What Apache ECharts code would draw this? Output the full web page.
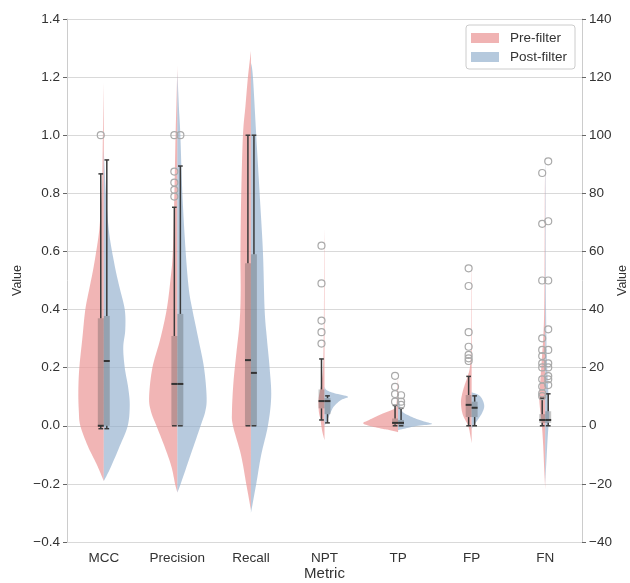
<!DOCTYPE html>
<html>
<head>
<meta charset="utf-8">
<script src="https://cdn.jsdelivr.net/npm/echarts@6/dist/echarts.min.js"></script>
<style>
html,body{margin:0;padding:0;background:#fff;}
#chart{width:630px;height:583px;}
</style>
</head>
<body>
<div id="chart"></div>
<script>
// ---------------- data ----------------
const categories = ['MCC', 'Precision', 'Recall', 'NPT', 'TP', 'FP', 'FN'];
const rateCats = [0, 1, 2];     // plotted on left axis (0..1 scores)
const countCats = [3, 4, 5, 6]; // plotted on right axis (counts)
const leftAxis = { min: -0.4, max: 1.4, interval: 0.2 };
const rightAxis = { min: -40, max: 140, interval: 20 };

// violin outlines: [value, density]  (density in units of 1/73.7 category band)
const preMCC = [[-0.19,0],[-0.13,7.5],[-0.07,16],[0,23.5],[0.05,25],[0.12,25.5],[0.2,24.5],[0.3,21.5],[0.4,18.5],[0.48,14],[0.55,10],[0.66,5],[0.75,3],[0.85,1.6],[1.0,0.9],[1.18,0]];
const postMCC = [[-0.19,0],[-0.15,6],[-0.07,16],[0,24],[0.07,26],[0.13,24.5],[0.2,21],[0.27,19.5],[0.33,21.5],[0.4,21],[0.48,15.5],[0.55,11],[0.66,5.5],[0.78,2.5],[0.85,1.3],[0.95,0]];
const prePrecision = [[-0.23,0],[-0.2,2.3],[-0.14,6],[-0.07,13],[0,21],[0.05,26.5],[0.1,28.3],[0.2,25],[0.3,17],[0.4,10.7],[0.5,7],[0.6,4.5],[0.8,3],[1.0,1.8],[1.1,1],[1.24,0]];
const postPrecision = [[-0.23,0],[-0.2,3.3],[-0.1,13.3],[0,23.3],[0.05,28],[0.1,29.3],[0.2,26.7],[0.3,21],[0.4,15],[0.47,11.5],[0.6,8.3],[0.8,5],[1.0,3],[1.1,1.5],[1.22,0]];
const preRecall = [[-0.29,0],[-0.2,4.7],[-0.1,10],[0,18],[0.05,19],[0.15,17.5],[0.25,14.6],[0.35,11.5],[0.45,10.3],[0.6,10.5],[0.8,9.7],[1.0,8],[1.1,5.5],[1.2,3],[1.29,0]];
const postRecall = [[-0.3,0],[-0.2,5.3],[-0.1,10.3],[0,17],[0.1,20.3],[0.2,18.7],[0.3,16],[0.4,13.7],[0.6,12],[0.8,8.7],[1.0,5.3],[1.2,2],[1.25,0]];
const preNPT = [[-5,0],[-1.5,2.5],[2,4],[5,5.7],[9,6],[12,4.5],[15,3],[20,1.5],[30,0.8],[45,0.5],[60,0.3],[68,0]];
const postNPT = [[0,0],[1,1.7],[3.7,5],[6.6,9.3],[8.9,16.7],[10,23.5],[11.2,10],[12.3,2],[13.5,0]];
const preTP = [[-2.2,0],[-1.5,8],[-1,16],[0,29],[0.9,35],[2,29],[4,17],[6,3],[8,1.5],[12,0.8],[17,0]];
const postTP = [[-1.5,0],[-1,6],[0,20],[0.6,34],[1.5,26],[3,14],[5,4],[8,1.5],[10,0]];
const preFP = [[-6,0],[-3,1.5],[0,3.5],[4,9],[8,10.7],[11,9.5],[14,7],[17,4],[20,1.8],[25,0.8],[35,0.5],[50,0.3],[56,0]];
const postFP = [[-1,0],[0.3,2.6],[2,6],[4.3,10.3],[6.6,12.6],[8.9,11],[10.6,7],[11.5,0]];
const preFN = [[-22,0],[-15,1],[-7,2],[0,3.3],[5,5],[10,6],[15,5],[20,4],[25,3],[30,2],[40,1],[60,0.6],[80,0.4],[90,0]];
const postFN = [[-20,0],[-12,1.2],[-5,2.3],[0,3.3],[4,4],[10,3.3],[20,2],[30,1.2],[50,0.6],[80,0.4],[95,0]];

// box stats per category: [lowWhisker, q1, median, q3, highWhisker]
const preBox = [
  [-0.01, 0, 0, 0.37, 0.867],
  [0, 0, 0.144, 0.309, 0.752],
  [0, 0, 0.226, 0.559, 1.0],
  [2, 6, 8.5, 12.5, 23],
  [0, 0.5, 1, 2.5, 7],
  [0, 3, 7.2, 10.6, 17],
  [0, 1, 2, 4, 9.5]
];
const postBox = [
  [-0.01, 0, 0.223, 0.378, 0.915],
  [0, 0, 0.144, 0.385, 0.894],
  [0, 0, 0.182, 0.59, 1.0],
  [1, 4, 8.5, 9.5, 10.3],
  [0, 0.3, 1, 2, 6],
  [0, 3, 6.2, 8.3, 10.3],
  [0, 1, 2, 5, 11]
];

// outliers: [categoryIndex, value]
const preOutliers = [
  [0,1.0],
  [1,0.789],[1,0.812],[1,0.837],[1,0.875],[1,1.0],
  [3,28.3],[3,32.2],[3,36.2],[3,49],[3,62],
  [4,8.3],[4,10.9],[4,13.4],[4,17.2],
  [5,22.3],[5,23.2],[5,24.4],[5,27.2],[5,32.2],[5,48.1],[5,54.2],
  [6,10.2],[6,11.2],[6,13.5],[6,16],[6,20.1],[6,21.5],[6,24],[6,26.1],[6,30.1],[6,50],[6,69.5],[6,87]
];
const postOutliers = [
  [1,1.0],
  [4,7.2],[4,8.3],[4,10.5],
  [6,14],[6,16],[6,17.1],[6,20.1],[6,21.5],[6,26.1],[6,33.2],[6,50],[6,70.4],[6,91]
];

const preViolins = [preMCC, prePrecision, preRecall, preNPT, preTP, preFP, preFN];
const postViolins = [postMCC, postPrecision, postRecall, postNPT, postTP, postFP, postFN];

// ---------------- styling ----------------
const PRE_COLOR = 'rgba(235,153,153,0.72)';
const POST_COLOR = 'rgba(155,181,209,0.72)';
const PRE_SOLID = '#f0b3b3';
const POST_SOLID = '#b5c9dd';
const DENSITY_UNIT = 73.7;
const BOX_FRAC = 0.081, WHISK_FRAC = 0.041, CAP_FRAC = 0.032;
const TEXT = '#333';
const FONT = 'Liberation Sans, Arial, sans-serif';

function catmull(pts, steps) {
  const out = [];
  const n = pts.length;
  for (let i = 0; i < n - 1; i++) {
    const p0 = pts[Math.max(i - 1, 0)], p1 = pts[i], p2 = pts[i + 1], p3 = pts[Math.min(i + 2, n - 1)];
    for (let s = 0; s < steps; s++) {
      const t = s / steps, t2 = t * t, t3 = t2 * t;
      const f = (a, b, c, d) => 0.5 * ((2 * b) + (-a + c) * t + (2 * a - 5 * b + 4 * c - d) * t2 + (-a + 3 * b - 3 * c + d) * t3);
      out.push([f(p0[0], p1[0], p2[0], p3[0]), f(p0[1], p1[1], p2[1], p3[1])]);
    }
  }
  out.push(pts[n - 1]);
  return out;
}

function violinSeries(name, side, axisIdx, cats, color) {
  const src = side < 0 ? preViolins : postViolins;
  return {
    type: 'custom', name: name, yAxisIndex: axisIdx, z: 2,
    itemStyle: { color: color },
    encode: { x: 0, y: 1 },
    data: cats.map(c => [c, 0]),
    renderItem: function (params, api) {
      const ci = api.value(0);
      const bw = api.size([1, 0])[0];
      const cx = api.coord([ci, 0])[0];
      const raw = src[ci].map(([v, d]) => [cx + side * d * bw / DENSITY_UNIT, api.coord([ci, v])[1]]);
      let pts = catmull(raw, 8).map(p => [side < 0 ? Math.min(p[0], cx) : Math.max(p[0], cx), p[1]]);
      return { type: 'polygon', shape: { points: pts }, style: { fill: color } };
    }
  };
}

function boxSeries(name, side, axisIdx, cats) {
  const src = side < 0 ? preBox : postBox;
  return {
    type: 'custom', name: name, yAxisIndex: axisIdx, z: 3,
    encode: { x: 0, y: 1 },
    data: cats.map(c => [c, 0]),
    renderItem: function (params, api) {
      const ci = api.value(0);
      const [lo, q1, med, q3, hi] = src[ci];
      const bw = api.size([1, 0])[0];
      const cx = api.coord([ci, 0])[0];
      const y = v => api.coord([ci, v])[1];
      const bx0 = side < 0 ? cx - BOX_FRAC * bw : cx;
      const bx1 = side < 0 ? cx : cx + BOX_FRAC * bw;
      const wx = cx + side * WHISK_FRAC * bw;
      const cap = CAP_FRAC * bw;
      const ls = { stroke: '#3a3a3a', lineWidth: 1.5 };
      const ch = [];
      ch.push({ type: 'rect', shape: { x: bx0, y: y(q3), width: bx1 - bx0, height: y(q1) - y(q3) }, style: { fill: 'rgba(70,70,70,0.3)' } });
      ch.push({ type: 'line', shape: { x1: wx, y1: y(q3), x2: wx, y2: y(hi) }, style: ls });
      ch.push({ type: 'line', shape: { x1: wx - cap, y1: y(hi), x2: wx + cap, y2: y(hi) }, style: ls });
      if (lo < q1) ch.push({ type: 'line', shape: { x1: wx, y1: y(q1), x2: wx, y2: y(lo) }, style: ls });
      ch.push({ type: 'line', shape: { x1: wx - cap, y1: y(lo), x2: wx + cap, y2: y(lo) }, style: ls });
      ch.push({ type: 'line', shape: { x1: bx0, y1: y(med), x2: bx1, y2: y(med) }, style: { stroke: '#333', lineWidth: 2 } });
      return { type: 'group', children: ch };
    }
  };
}

function outlierSeries(name, side, axisIdx, cats) {
  const src = (side < 0 ? preOutliers : postOutliers).filter(o => cats.indexOf(o[0]) >= 0);
  return {
    type: 'custom', name: name, yAxisIndex: axisIdx, z: 4,
    encode: { x: 0, y: 1 },
    data: src,
    renderItem: function (params, api) {
      const ci = api.value(0);
      const bw = api.size([1, 0])[0];
      const p = api.coord([ci, api.value(1)]);
      return { type: 'circle', shape: { cx: p[0] + side * WHISK_FRAC * bw, cy: p[1], r: 3.5 }, style: { fill: 'none', stroke: '#aaaaaa', lineWidth: 1.2 } };
    }
  };
}

const minus = s => String(s).replace('-', '\u2212');

const option = {
  animation: false,
  backgroundColor: '#fff',
  textStyle: { fontFamily: FONT },
  grid: { left: 67, right: 48, top: 19, bottom: 41, containLabel: false, outerBoundsMode: 'none' },
  legend: {
    orient: 'vertical', left: 466, top: 25,
    padding: [6, 8, 5, 5], itemGap: 5, itemWidth: 28, itemHeight: 10,
    borderColor: '#cccccc', borderWidth: 1, borderRadius: 3, backgroundColor: '#fff',
    textStyle: { fontSize: 13.5, color: TEXT, fontFamily: FONT, padding: [0, 0, 0, 6] },
    data: [
      { name: 'Pre-filter', icon: 'rect', itemStyle: { color: PRE_SOLID } },
      { name: 'Post-filter', icon: 'rect', itemStyle: { color: POST_SOLID } }
    ]
  },
  xAxis: {
    type: 'category', data: categories, boundaryGap: true,
    axisLine: { show: true, lineStyle: { color: '#cccccc' } },
    axisTick: { show: false },
    axisLabel: { color: TEXT, fontSize: 13.5, margin: 9, interval: 0, fontFamily: FONT },
    name: 'Metric', nameLocation: 'middle', nameGap: 24, nameMoveOverlap: false,
    nameTextStyle: { fontSize: 15, color: TEXT, fontFamily: FONT },
    splitLine: { show: false }
  },
  yAxis: [
    {
      type: 'value', position: 'left', min: leftAxis.min, max: leftAxis.max, interval: leftAxis.interval,
      axisLine: { show: true, lineStyle: { color: '#cccccc' } },
      axisTick: { show: true, length: 4, lineStyle: { color: '#666' } },
      axisLabel: { color: TEXT, fontSize: 13.5, margin: 7, fontFamily: FONT, formatter: v => minus(v.toFixed(1)) },
      splitLine: { show: true, lineStyle: { color: '#d9d9d9', width: 1.2 } },
      name: 'Value', nameLocation: 'middle', nameGap: 43, nameRotate: 90, nameMoveOverlap: false,
      nameTextStyle: { fontSize: 12.5, color: TEXT, fontFamily: FONT }
    },
    {
      type: 'value', position: 'right', min: rightAxis.min, max: rightAxis.max, interval: rightAxis.interval,
      axisLine: { show: true, lineStyle: { color: '#cccccc' } },
      axisTick: { show: true, length: 4, lineStyle: { color: '#666' } },
      axisLabel: { color: TEXT, fontSize: 13.5, margin: 7, fontFamily: FONT, formatter: v => minus(v) },
      splitLine: { show: false },
      name: 'Value', nameLocation: 'middle', nameGap: 34, nameRotate: 90, nameMoveOverlap: false,
      nameTextStyle: { fontSize: 12.5, color: TEXT, fontFamily: FONT }
    }
  ],
  series: [
    violinSeries('Pre-filter', -1, 0, rateCats, PRE_COLOR),
    violinSeries('Pre-filter', -1, 1, countCats, PRE_COLOR),
    violinSeries('Post-filter', 1, 0, rateCats, POST_COLOR),
    violinSeries('Post-filter', 1, 1, countCats, POST_COLOR),
    boxSeries('box-pre', -1, 0, rateCats),
    boxSeries('box-pre', -1, 1, countCats),
    boxSeries('box-post', 1, 0, rateCats),
    boxSeries('box-post', 1, 1, countCats),
    outlierSeries('out-pre', -1, 0, rateCats),
    outlierSeries('out-pre', -1, 1, countCats),
    outlierSeries('out-post', 1, 0, rateCats),
    outlierSeries('out-post', 1, 1, countCats)
  ]
};

const chart = echarts.init(document.getElementById('chart'), null, { renderer: 'canvas' });
chart.setOption(option);
</script>
</body>
</html>
